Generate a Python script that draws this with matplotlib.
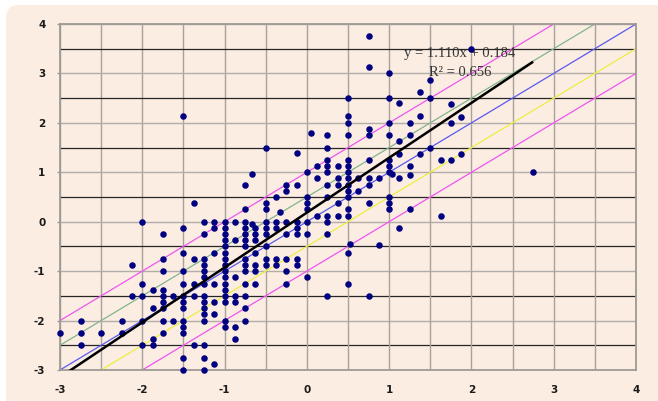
import numpy as np
import matplotlib
matplotlib.use("Agg")
import matplotlib.pyplot as plt
from matplotlib.patches import FancyBboxPatch
from matplotlib.transforms import IdentityTransform

# ---- observations (one line per x level) ----
x_vals = (
    [-3.0] * 1 + [-2.75] * 3 + [-2.5] * 1 + [-2.25] * 2 + [-2.125] * 2 +
    [-2.0] * 5 + [-1.875] * 4 + [-1.75] * 9 + [-1.625] * 2 + [-1.5] * 13 +
    [-1.375] * 5 + [-1.25] * 15 + [-1.125] * 7 + [-1.0] * 16 + [-0.875] * 7 +
    [-0.75] * 14 + [-0.67] * 2 + [-0.625] * 7 + [-0.5] * 9 + [-0.375] * 5 +
    [-0.33] * 1 + [-0.25] * 7 + [-0.125] * 7 + [0.0] * 7 + [0.05] * 1 +
    [0.125] * 3 + [0.25] * 11 + [0.375] * 5 + [0.5] * 15 + [0.52] * 1 +
    [0.625] * 2 + [0.75] * 9 + [0.875] * 2 + [1.0] * 10 + [1.04] * 1 +
    [1.125] * 5 + [1.25] * 5 + [1.375] * 3 + [1.5] * 3 + [1.625] * 2 +
    [1.75] * 3 + [1.875] * 2 + [2.0] * 1 + [2.75] * 1
)
y_vals = [
    -2.25,
    -2.0, -2.25, -2.5,
    -2.25,
    -2.0, -2.25,
    -0.875, -1.5,
    0.0, -1.25, -1.5, -2.0, -2.5,
    -1.375, -1.75, -2.375, -2.5,
    -0.25, -0.75, -1.0, -1.375, -1.5, -1.625, -1.75, -2.0, -2.25,
    -1.5, -2.0,
    2.14, -0.125, -0.625, -1.0, -1.25, -1.5, -1.625, -1.75, -2.0, -2.125, -2.25, -2.75, -3.0,
    0.375, -0.75, -1.25, -1.5, -2.5,
    0.0, -0.25, -0.75, -0.875, -1.0, -1.125, -1.25, -1.5, -1.625, -1.75, -1.875, -2.0, -2.5, -2.75, -3.0,
    0.0, -0.125, -0.625, -1.25, -1.625, -1.875, -2.875,
    0.0, -0.125, -0.25, -0.375, -0.5, -0.625, -0.75, -0.875, -1.0, -1.125, -1.25, -1.375, -1.5, -1.625, -2.0, -2.125,
    0.0, -0.375, -1.125, -1.5, -1.625, -2.125, -2.375,
    0.75, 0.25, 0.0, -0.125, -0.25, -0.375, -0.5, -0.75, -0.875, -1.0, -1.25, -1.5, -1.75, -2.0,
    0.96, -0.05,
    -0.125, -0.25, -0.375, -0.625, -0.875, -1.0, -1.25,
    1.5, 0.375, 0.25, 0.0, -0.125, -0.25, -0.5, -0.75, -0.875,
    0.5, 0.0, -0.125, -0.75, -0.875,
    0.19,
    0.75, 0.625, 0.0, -0.25, -0.75, -1.0, -1.25,
    1.4, 0.75, 0.0, -0.125, -0.25, -0.75, -0.875,
    1.0, 0.5, 0.375, 0.25, 0.0, -0.25, -1.125,
    1.8,
    1.125, 0.875, 0.125,
    1.75, 1.5, 1.25, 1.125, 1.0, 0.75, 0.5, 0.125, 0.0, -0.25, -1.5,
    1.125, 0.875, 0.75, 0.375, 0.125,
    2.5, 2.14, 2.0, 1.75, 1.25, 1.125, 1.0, 0.875, 0.75, 0.625, 0.5, 0.25, 0.125, -0.625, -1.25,
    -0.45,
    0.875, 0.625,
    3.75, 3.13, 1.875, 1.75, 1.25, 0.875, 0.75, 0.375, -1.5,
    0.875, -0.47,
    3.0, 2.5, 2.0, 1.75, 1.25, 1.125, 1.0, 0.5, 0.375, 0.25,
    0.96,
    2.4, 1.625, 1.375, 0.875, -0.125,
    2.0, 1.75, 1.125, 0.95, 0.25,
    2.625, 2.14, 1.375,
    2.875, 2.5, 1.5,
    1.25, 0.125,
    2.375, 2.0, 1.25,
    2.125, 1.375,
    3.5,
    1.0,
]

# linear trend (as reported)
trend_slope = 1.110
trend_intercept = 0.184
trend_r2 = 0.656

# parallel reference lines y = x + offset
ref_offsets = [1.0, 0.5, 0.0, -0.5, -1.0]
ref_colors = ["#F055F0", "#82B58C", "#5A5AF0", "#EEEE44", "#F055F0"]

tick_values = [-3, -2, -1, 0, 1, 2, 3, 4]

# ---- figure ----
BG = "#FBEDE2"
fig = plt.figure(figsize=(6.58, 4.01), dpi=100, facecolor="white")
frame = FancyBboxPatch((6, -30), 700, 426,
                       boxstyle="round,pad=0,rounding_size=13",
                       transform=IdentityTransform(), facecolor=BG,
                       edgecolor="none", zorder=-10)
fig.patches.append(frame)

W, H = 658, 401
ax = fig.add_axes([60 / W, 1 - 370 / H, 576 / W, 346 / H])
ax.set_zorder(5)
ax.set_facecolor("none")
ax.set_xlim(-3, 4)
ax.set_ylim(-3, 4)

# gridlines every half unit
for v in np.arange(-3, 4.01, 0.5):
    ax.axvline(v, color="#A8A19C", lw=1.0, zorder=1)
    if abs(v - round(v)) < 1e-9:
        ax.axhline(v, color="#B3ADA9", lw=1.0, zorder=1)
    else:
        ax.axhline(v, color="#262626", lw=0.9, zorder=1)

# reference lines
xr = np.array([-3.0, 4.0])
for off, col in zip(ref_offsets, ref_colors):
    ax.plot(xr, xr + off, color=col, lw=0.9, zorder=2)

# points
ax.scatter(x_vals, y_vals, s=22, color="#000080", linewidths=0, zorder=4,
           clip_on=False)

# trend line across the data range
xt = np.array([min(x_vals), max(x_vals)])
ax.plot(xt, trend_slope * xt + trend_intercept, color="black", lw=1.8,
        zorder=5, solid_capstyle="butt")

ax.text(0.694, 0.916, f"y = {trend_slope:.3f}x + {trend_intercept:.3f}",
        transform=ax.transAxes, ha="center", va="center",
        fontfamily="Liberation Serif", fontsize=10.5, color="#333333", zorder=6)
ax.text(0.694, 0.861, f"R\u00b2 = {trend_r2:.3f}",
        transform=ax.transAxes, ha="center", va="center",
        fontfamily="Liberation Serif", fontsize=10.5, color="#333333", zorder=6)

# axes styling
for side in ["left", "bottom", "top", "right"]:
    ax.spines[side].set_color("#A09A95")
    ax.spines[side].set_linewidth(1.3)
    ax.spines[side].set_zorder(3)

ax.set_xticks(tick_values)
ax.set_yticks(tick_values)
ax.set_xticklabels([str(t) for t in tick_values])
ax.set_yticklabels([str(t) for t in tick_values])
ax.tick_params(axis="x", length=0, pad=11)
ax.tick_params(axis="y", length=2.5, width=1, color="#A09A95", pad=8)
for lab in ax.get_xticklabels() + ax.get_yticklabels():
    lab.set_fontweight("bold")
    lab.set_fontsize(7.5)
    lab.set_color("#1A1A1A")

fig.savefig("out.png", dpi=100, facecolor="white")
